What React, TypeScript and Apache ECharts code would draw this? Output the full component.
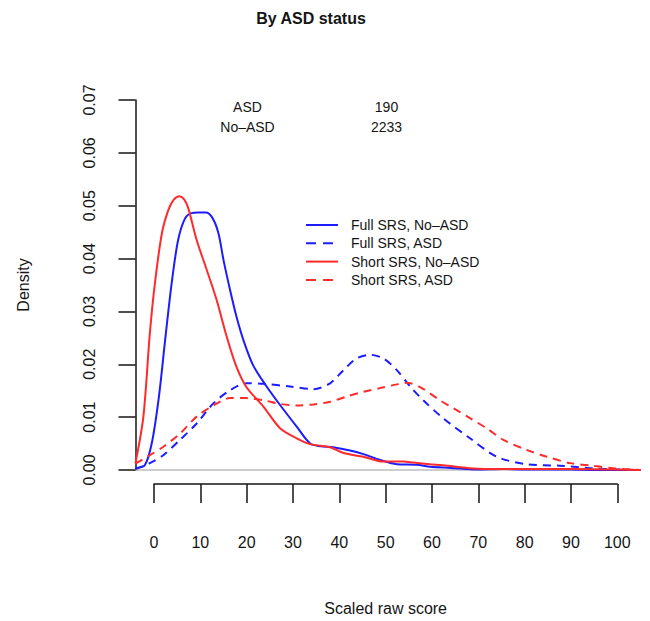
import React, { useEffect, useRef } from 'react';
import * as echarts from 'echarts';

// ---- data ----
const seriesNames = ['Full SRS, No\u2013ASD', 'Full SRS, ASD', 'Short SRS, No\u2013ASD', 'Short SRS, ASD'];
const seriesDashed = [false, true, false, true];

const fullNoAsdX = [-4, -2, -0.5, 1, 2.4, 3.8, 5.2, 6.7, 8.1, 9.5, 11.2, 12.6, 13.9, 15, 16.4, 17.8, 19.4, 21.4, 24.3, 27.2, 30.8, 33.7, 36, 38.6, 42.3, 45.2, 48.8, 52.4, 56.7, 59.6, 64, 70, 75, 80, 85, 90, 95, 100, 105];
const fullNoAsdY = [0.0004, 0.0009, 0.005, 0.0135, 0.0246, 0.0353, 0.0435, 0.0476, 0.0486, 0.0487, 0.0487, 0.0477, 0.0448, 0.0397, 0.0341, 0.029, 0.0243, 0.0198, 0.0158, 0.0123, 0.0082, 0.005, 0.0045, 0.0043, 0.0037, 0.003, 0.0019, 0.0011, 0.001, 0.0006, 0.0004, 0.0001, 0.0002, 0.0001, 0.0001, 0.0001, 0.0, 0.0, 0.0];

const fullAsdX = [-4, -0.9, 2, 5.6, 9.2, 12.8, 16.4, 20, 23.6, 29.4, 34.4, 38, 40.9, 43.7, 46.6, 49.5, 52.4, 55.3, 58.1, 62.4, 68.2, 74, 80.4, 87.6, 94.8, 100, 105];
const fullAsdY = [0.0002, 0.0013, 0.0028, 0.0057, 0.0088, 0.0126, 0.0151, 0.0164, 0.0163, 0.0158, 0.0153, 0.0164, 0.0189, 0.0211, 0.0218, 0.0211, 0.0189, 0.0158, 0.0132, 0.0098, 0.006, 0.0025, 0.0011, 0.0008, 0.0003, 0.0001, 0.0];

const shortNoAsdX = [-4, -2.3, -0.9, 0.2, 1.7, 3.1, 4.3, 5.5, 6.5, 7.4, 9.2, 11.4, 13.5, 15.7, 17.8, 20, 23.6, 27.2, 30.8, 33.7, 38, 40.9, 45.2, 49.5, 53.8, 56, 59.6, 62.4, 68.9, 75, 80, 90, 100, 105];
const shortNoAsdY = [0.0013, 0.0101, 0.0259, 0.0354, 0.0448, 0.0492, 0.0512, 0.0518, 0.0512, 0.0495, 0.0435, 0.0378, 0.0322, 0.0252, 0.0195, 0.0156, 0.012, 0.0079, 0.006, 0.0049, 0.0043, 0.0032, 0.0025, 0.0016, 0.0016, 0.0014, 0.0011, 0.0009, 0.0003, 0.0002, 0.0002, 0.0002, 0.0001, 0.0];

const shortAsdX = [-4, -0.9, 2, 5.6, 9.2, 12.8, 16.4, 20, 23.6, 27.2, 30.8, 34.4, 38, 41.6, 45.2, 48.8, 52.4, 54.5, 57.4, 61.7, 64.6, 68.2, 71.8, 75.4, 80.4, 84.8, 89.8, 94.8, 99.2, 105];
const shortAsdY = [0.0012, 0.0028, 0.0044, 0.0069, 0.0101, 0.0122, 0.0136, 0.0136, 0.0132, 0.0125, 0.0122, 0.0124, 0.0129, 0.0139, 0.0148, 0.0155, 0.0162, 0.0165, 0.0157, 0.0132, 0.0117, 0.0098, 0.0079, 0.0057, 0.0038, 0.0025, 0.0013, 0.0008, 0.0003, 0.0];

const groupLabels = ['ASD', 'No\u2013ASD'];
const groupCounts = ['190', '2233'];

const yTicks = { min: 0, max: 0.07, interval: 0.01 };
const xTicks = { min: 0, max: 100, interval: 10 };

// ---- styles ----
const FONT = '"Liberation Sans", Arial, Helvetica, sans-serif';
const BLUE = '#1c1cff';
const RED = '#ff2a2a';
const INK = '#151515';

const zip = (xs: number[], ys: number[]) => xs.map((x, i) => [x, ys[i]]);

export default function App() {
  const ref = useRef<HTMLDivElement>(null);
  useEffect(() => {
    const chart = echarts.init(ref.current!, null, { renderer: 'svg' });
    const lineSeries = (name: string, data: number[][], color: string, dashed: boolean) => ({
      name,
      type: 'line',
      xAxisIndex: 0,
      yAxisIndex: 0,
      data,
      showSymbol: false,
      symbol: 'none',
      smooth: 0.3,
      lineStyle: { color, width: 2, type: dashed ? [8, 6] : 'solid' },
      itemStyle: { color },
      z: 3,
    });
    const option: any = {
      animation: false,
      backgroundColor: '#ffffff',
      textStyle: { fontFamily: FONT },
      title: {
        text: 'By ASD status',
        left: 311,
        top: 10,
        padding: 0,
        textAlign: 'center',
        textStyle: { fontFamily: FONT, fontSize: 16, fontWeight: 'bold', color: INK },
      },
      legend: {
        orient: 'vertical',
        left: 305,
        top: 218,
        padding: 0,
        itemWidth: 32,
        itemHeight: 14,
        itemGap: 4.3,
        selectedMode: false,
        data: seriesNames.map((name, i) =>
          seriesDashed[i] ? { name, lineStyle: { type: [10, 7] } } : { name }
        ),
        itemStyle: { opacity: 0 },
        textStyle: { fontFamily: FONT, fontSize: 14, color: INK, padding: [0, 0, 0, 8] },
      },
      grid: [
        { left: 135.5, right: 9.5, top: 100, bottom: 151, outerBoundsMode: 'none' },
        { left: 154, right: 32.7, top: 470, bottom: 137, outerBoundsMode: 'none' },
      ],
      xAxis: [
        {
          type: 'value',
          gridIndex: 0,
          min: -4,
          max: 105,
          axisLine: { show: true, onZero: true, lineStyle: { color: '#bdbdbd', width: 1.5 } },
          axisTick: { show: false },
          axisLabel: { show: false },
          splitLine: { show: false },
        },
        {
          type: 'value',
          gridIndex: 1,
          min: xTicks.min,
          max: xTicks.max,
          interval: xTicks.interval,
          position: 'bottom',
          axisLine: { show: true, onZero: false, lineStyle: { color: INK, width: 1.5 } },
          axisTick: { show: true, inside: false, length: 19, lineStyle: { color: INK, width: 1.5 } },
          axisLabel: { show: true, margin: 50, fontSize: 16, color: INK, fontFamily: FONT },
          splitLine: { show: false },
          name: 'Scaled raw score',
          nameLocation: 'middle',
          nameGap: 116,
          nameTextStyle: { fontSize: 16, color: INK, fontFamily: FONT },
        },
      ],
      yAxis: [
        {
          type: 'value',
          gridIndex: 0,
          min: yTicks.min,
          max: yTicks.max,
          interval: yTicks.interval,
          axisLine: { show: true, onZero: false, lineStyle: { color: INK, width: 1.5 } },
          axisTick: { show: true, inside: false, length: 17, lineStyle: { color: INK, width: 1.5 } },
          axisLabel: {
            show: true,
            rotate: 90,
            margin: 38,
            fontSize: 16,
            color: INK,
            fontFamily: FONT,
            formatter: (v: number) => v.toFixed(2),
          },
          splitLine: { show: false },
          name: 'Density',
          nameLocation: 'middle',
          nameRotate: 90,
          nameGap: 104,
          nameTextStyle: { fontSize: 16, color: INK, fontFamily: FONT },
        },
        {
          type: 'value',
          gridIndex: 1,
          min: 0,
          max: 1,
          show: false,
        },
      ],
      graphic: [
        { type: 'text', x: 247.5, y: 107, style: { text: groupLabels[0], textAlign: 'center', textVerticalAlign: 'middle', font: `14px ${FONT}`, fill: INK } },
        { type: 'text', x: 247.5, y: 127, style: { text: groupLabels[1], textAlign: 'center', textVerticalAlign: 'middle', font: `14px ${FONT}`, fill: INK } },
        { type: 'text', x: 386.5, y: 107, style: { text: groupCounts[0], textAlign: 'center', textVerticalAlign: 'middle', font: `14px ${FONT}`, fill: INK } },
        { type: 'text', x: 386.5, y: 127, style: { text: groupCounts[1], textAlign: 'center', textVerticalAlign: 'middle', font: `14px ${FONT}`, fill: INK } },
      ],
      series: [
        lineSeries(seriesNames[0], zip(fullNoAsdX, fullNoAsdY), BLUE, seriesDashed[0]),
        lineSeries(seriesNames[1], zip(fullAsdX, fullAsdY), BLUE, seriesDashed[1]),
        lineSeries(seriesNames[2], zip(shortNoAsdX, shortNoAsdY), RED, seriesDashed[2]),
        lineSeries(seriesNames[3], zip(shortAsdX, shortAsdY), RED, seriesDashed[3]),
      ],
    };
    chart.setOption(option);
    return () => chart.dispose();
  }, []);
  return (
    <div
      ref={ref}
      style={{ position: 'fixed', left: 0, top: 0, width: 650, height: 621, background: '#fff' }}
    />
  );
}
